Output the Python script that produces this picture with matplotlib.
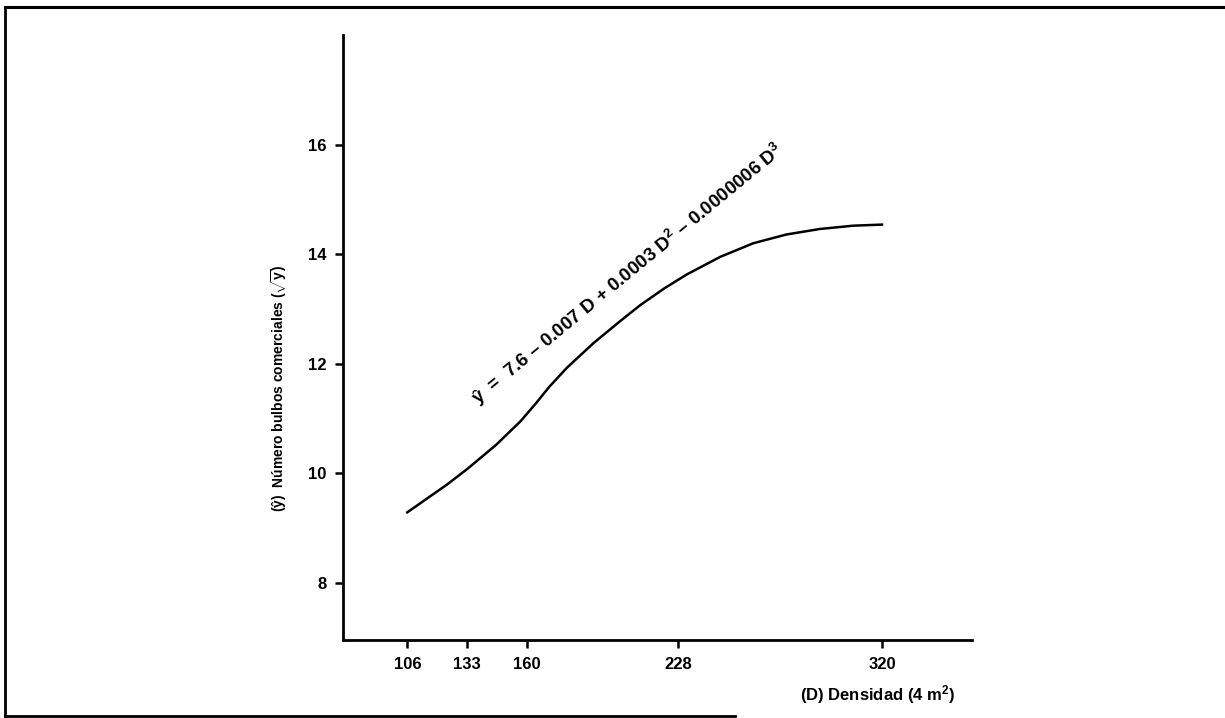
import matplotlib
matplotlib.use('Agg')
import matplotlib.pyplot as plt
from matplotlib.lines import Line2D

# datos
densidad_ticks = [106, 133, 160, 228, 320]
bulbos_ticks = [8, 10, 12, 14, 16]
densidad = [106, 112, 124, 133, 146, 157, 164, 170, 178, 190,
            202, 211, 222, 232, 247, 262, 277, 292, 307, 320]
bulbos = [9.29, 9.46, 9.80, 10.08, 10.52, 10.95, 11.28, 11.58, 11.93, 12.38,
          12.78, 13.07, 13.38, 13.63, 13.95, 14.20, 14.36, 14.46, 14.52, 14.54]
ecuacion = 'ŷ  =  7.6 – 0.007 D + 0.0003 D$^{2}$ – 0.0000006 D$^{3}$'
ylabel = '(ŷ)  Número bulbos comerciales ($\\mathbf{\\sqrt{y}}$)'
xlabel = '(D) Densidad (4 m$^{2}$)'

plt.rcParams['font.family'] = ['Liberation Sans', 'DejaVu Sans']
plt.rcParams['font.weight'] = 'bold'
plt.rcParams['mathtext.fontset'] = 'custom'
plt.rcParams['mathtext.rm'] = 'Liberation Sans:bold'
plt.rcParams['mathtext.bf'] = 'Liberation Sans:bold'
plt.rcParams['mathtext.it'] = 'Liberation Sans:bold'

fig = plt.figure(figsize=(12.25, 7.18), dpi=100)
ax = fig.add_axes([0.280, 0.1086, 0.5135, 0.8427])
ax.plot(densidad, bulbos, color='black', lw=1.8, solid_joinstyle='round')
ax.set_xlim(77, 360.6)
ax.set_ylim(6.96, 18.0)
ax.spines['top'].set_visible(False)
ax.spines['right'].set_visible(False)
ax.spines['left'].set_linewidth(2.0)
ax.spines['bottom'].set_linewidth(2.0)
ax.set_xticks(densidad_ticks)
ax.set_yticks(bulbos_ticks)
ax.tick_params(direction='out', length=6, width=1.8, labelsize=12, pad=6)
for lbl in ax.get_xticklabels() + ax.get_yticklabels():
    lbl.set_fontweight('bold')

# ecuacion girada sobre la curva
ax.text(138.0, 11.25, ecuacion, rotation=39.5, rotation_mode='anchor',
        ha='left', va='baseline', fontsize=13.5, fontweight='bold')

fig.text(279 / 1225, 1 - 388 / 718, ylabel, rotation=90, ha='center', va='center',
         fontsize=10, fontweight='bold')
fig.text(955 / 1225, 1 - 695 / 718, xlabel, ha='right', va='center',
         fontsize=12, fontweight='bold')

# marco del recuadro escaneado
fig.add_artist(Line2D([0.004, 1.0], [0.990, 0.990], color='black', lw=2.2, transform=fig.transFigure))
fig.add_artist(Line2D([0.004, 0.004], [0.003, 0.990], color='black', lw=2.0, transform=fig.transFigure))
fig.add_artist(Line2D([0.004, 0.60], [0.003, 0.003], color='black', lw=2.0, transform=fig.transFigure))

fig.savefig('out.png', dpi=100)
